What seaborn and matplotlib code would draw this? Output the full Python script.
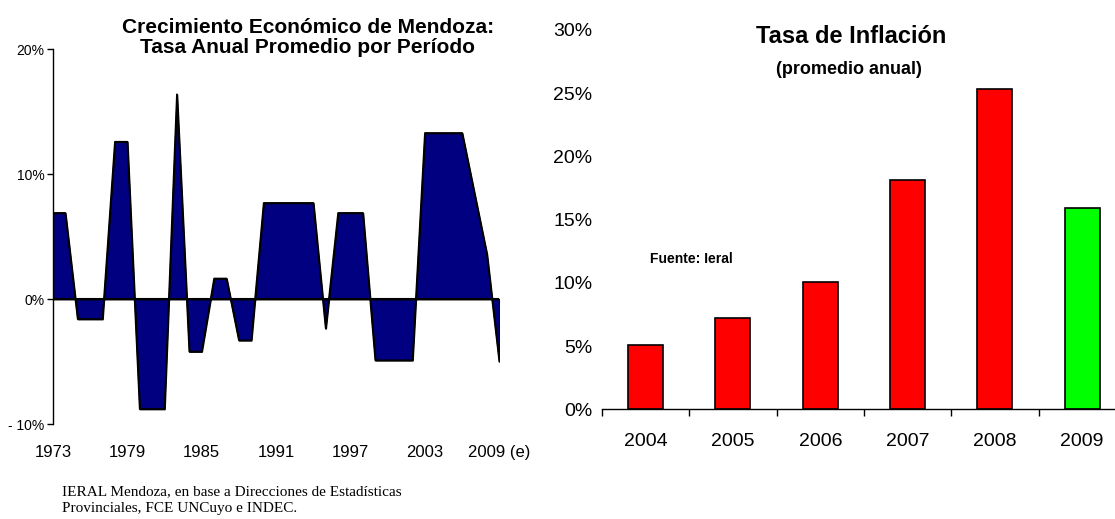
import matplotlib
matplotlib.use("Agg")
import matplotlib.pyplot as plt
import seaborn as sns
import numpy as np

# ---------------- data ----------------
growth_years = list(range(1973, 2010))
growth_values = [6.9, 6.9,
                 -1.6, -1.6, -1.6,
                 12.6, 12.6,
                 -8.8, -8.8, -8.8,
                 16.4,
                 -4.2, -4.2,
                 1.65, 1.65,
                 -3.3, -3.3,
                 7.7, 7.7, 7.7, 7.7, 7.7,
                 -2.35,
                 6.9, 6.9, 6.9,
                 -4.9, -4.9, -4.9, -4.9,
                 13.3, 13.3, 13.3, 13.3,
                 8.45,
                 3.6,
                 -5.0]
growth_tick_years = [1973, 1979, 1985, 1991, 1997, 2003, 2009]
growth_tick_labels = ["1973", "1979", "1985", "1991", "1997", "2003", "2009 (e)"]
growth_yticks = [-10, 0, 10, 20]
growth_ytick_labels = ["- 10%", "0%", "10%", "20%"]

infl_years = ["2004", "2005", "2006", "2007", "2008", "2009"]
infl_values = [5.1, 7.2, 10.1, 18.1, 25.3, 15.9]
infl_colors = ["#FF0000", "#FF0000", "#FF0000", "#FF0000", "#FF0000", "#00FF00"]
infl_yticks = [0, 5, 10, 15, 20, 25, 30]
infl_ytick_labels = ["0%", "5%", "10%", "15%", "20%", "25%", "30%"]

# ---------------- style ----------------
sns.set_theme(style="white")
plt.rcParams["font.family"] = ["Liberation Sans", "DejaVu Sans"]

W, H = 1115, 519
fig = plt.figure(figsize=(W / 100, H / 100), dpi=100)
fig.patch.set_facecolor("white")

def fx(px):
    return px / W

def fy(py):
    return 1 - py / H

# ---------------- left chart ----------------
lx0, lx1 = 52.9, 499.3
ly_top, ly_bot = 49.3, 424.0
ax1 = fig.add_axes([fx(lx0), fy(ly_bot), fx(lx1) - fx(lx0), fy(ly_top) - fy(ly_bot)])
ax1.set_facecolor("white")
ax1.fill_between(growth_years, growth_values, 0, facecolor="#000080",
                 edgecolor="black", linewidth=1.2, zorder=2)
sns.lineplot(x=growth_years, y=growth_values, color="black", linewidth=1.2,
             ax=ax1, zorder=3)
ax1.axhline(0, color="black", linewidth=1.5, zorder=4)
ax1.set_xlim(1973, 2009)
ax1.set_ylim(-10, 20)
ax1.set_xticks(growth_tick_years)
ax1.set_xticklabels(growth_tick_labels, fontsize=12, color="black")
ax1.set_yticks(growth_yticks)
ax1.set_yticklabels(growth_ytick_labels, fontsize=10, color="black")
ax1.tick_params(axis="x", length=0, pad=15)
ax1.tick_params(axis="y", length=4, width=1, direction="out", color="black",
                pad=2, left=True)
for s in ["top", "right", "bottom"]:
    ax1.spines[s].set_visible(False)
ax1.spines["left"].set_color("black")
ax1.spines["left"].set_linewidth(1.0)
ax1.set_xlabel("")
ax1.set_ylabel("")
ax1.grid(False)

fig.text(fx(308), fy(33), "Crecimiento Económico de Mendoza:", ha="center",
         va="baseline", fontsize=15, fontweight="bold", color="black")
fig.text(fx(308), fy(53), "Tasa Anual Promedio por Período", ha="center",
         va="baseline", fontsize=15, fontweight="bold", color="black")

# ---------------- right chart ----------------
rx0 = 602.0
cat_w = 87.3
rx1 = rx0 + 6 * cat_w
ry_zero, ry_top = 409.3, 29.8
ax2 = fig.add_axes([fx(rx0), fy(ry_zero), fx(rx1) - fx(rx0), fy(ry_top) - fy(ry_zero)])
ax2.set_facecolor("none")
sns.barplot(x=infl_years, y=infl_values, hue=infl_years, palette=infl_colors,
            legend=False, width=0.4, saturation=1, edgecolor="black",
            linewidth=1.2, ax=ax2, zorder=2)
ax2.set_xlim(-0.5, 5.5)
ax2.set_ylim(0, 30)
ax2.set_yticks(infl_yticks)
ax2.set_yticklabels(infl_ytick_labels, fontsize=14, color="black")
ax2.set_xticks(range(len(infl_years)))
ax2.set_xticklabels(infl_years, fontsize=14, color="black")
ax2.set_xticks(np.arange(-0.5, 6.0, 1.0), minor=True)
ax2.tick_params(axis="x", which="major", length=0, pad=17)
ax2.tick_params(axis="x", which="minor", length=5, width=1, direction="out",
                color="black", bottom=True)
ax2.tick_params(axis="y", length=0, pad=7)
for s in ["top", "right", "left"]:
    ax2.spines[s].set_visible(False)
ax2.spines["bottom"].set_color("black")
ax2.spines["bottom"].set_linewidth(1.0)
ax2.set_xlabel("")
ax2.set_ylabel("")
ax2.grid(False)

fig.text(fx(851), fy(43), "Tasa de Inflación", ha="center", va="baseline",
         fontsize=17, fontweight="bold", color="black")
fig.text(fx(849), fy(74), "(promedio anual)", ha="center", va="baseline",
         fontsize=13, fontweight="bold", color="black")
fig.text(fx(650), fy(263), "Fuente: Ieral", ha="left", va="baseline",
         fontsize=10, fontweight="bold", color="black")

# ---------------- footnote ----------------
fig.text(fx(62), fy(495), "IERAL Mendoza, en base a Direcciones de Estadísticas",
         ha="left", va="baseline", fontsize=11, family=["Liberation Serif", "DejaVu Serif"],
         color="black")
fig.text(fx(62), fy(512), "Provinciales, FCE UNCuyo e INDEC.",
         ha="left", va="baseline", fontsize=11, family=["Liberation Serif", "DejaVu Serif"],
         color="black")

fig.savefig("out.png", dpi=100, facecolor="white")
